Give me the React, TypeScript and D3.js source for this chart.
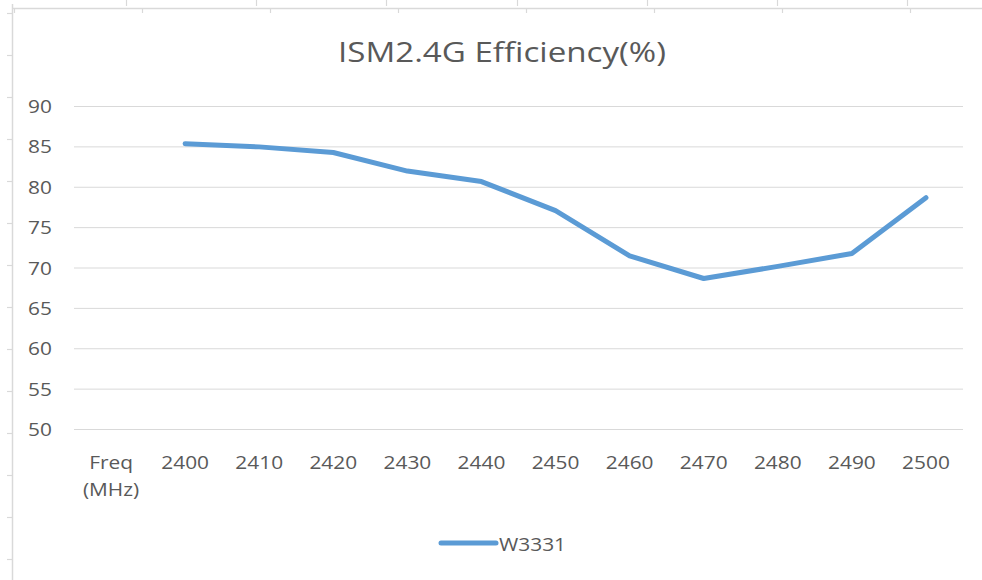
import React from 'react';
import * as d3 from 'd3';

const title = 'ISM2.4G Efficiency(%)';
const categories = ['Freq\n(MHz)', '2400', '2410', '2420', '2430', '2440', '2450', '2460', '2470', '2480', '2490', '2500'];
const efficiency: (number | null)[] = [null, 85.4, 85.0, 84.3, 82.0, 80.7, 77.1, 71.5, 68.7, 70.2, 71.8, 78.7];
const yTicks = [50, 55, 60, 65, 70, 75, 80, 85, 90];
const seriesName = 'W3331';

const W = 982;
const H = 580;
const TEXT = '#595959';
const GRID = '#d9d9d9';
const LINE = '#5B9BD5';
const FONT = "'Open Sans', 'Noto Sans', sans-serif";
const SX = 1.13; // horizontal stretch of the original rendering
const TSX = 1.25;

export default function App() {
  const x = d3.scaleBand<string>().domain(categories).range([74, 963]).paddingInner(0).paddingOuter(0);
  const y = d3.scaleLinear().domain([50, 90]).range([429.5, 106.5]);
  const cx = (c: string) => (x(c) as number) + x.bandwidth() / 2;

  const pts = categories.map((c, i) => ({ c, v: efficiency[i] }));
  const line = d3
    .line<{ c: string; v: number | null }>()
    .defined((d) => d.v !== null)
    .x((d) => cx(d.c))
    .y((d) => y(d.v as number));

  const leftTicks = d3.range(13, H, 42);
  const topTicksA = d3.range(126, W, 130.2);
  const topTicksB = d3.range(14, W, 128);

  return (
    <svg width={W} height={H} style={{ position: 'absolute', left: 0, top: 0, background: '#fff' }}>
      <rect x={0} y={0} width={W} height={H} fill="#fff" />
      {/* spreadsheet frame */}
      <line x1={12} x2={W} y1={8.5} y2={8.5} stroke={GRID} strokeWidth={1.5} />
      <line x1={12.5} x2={12.5} y1={4} y2={H} stroke={GRID} strokeWidth={1.5} />
      {leftTicks.map((t) => (
        <line key={'l' + t} x1={7} x2={12} y1={t + 0.5} y2={t + 0.5} stroke={GRID} strokeWidth={1.2} />
      ))}
      {topTicksA.map((t) => (
        <line key={'a' + t} x1={Math.round(t) + 0.5} x2={Math.round(t) + 0.5} y1={0} y2={6} stroke={GRID} strokeWidth={1.2} />
      ))}
      {topTicksB.map((t) => (
        <line key={'b' + t} x1={Math.round(t) + 0.5} x2={Math.round(t) + 0.5} y1={9} y2={13} stroke={GRID} strokeWidth={1.2} />
      ))}

      {/* title */}
      <text
        transform={`translate(${(74 + 963) / 2 - 16.5},62) scale(${TSX},1)`}
        textAnchor="middle"
        fontFamily={FONT}
        fontSize={26.5}
        fill={TEXT}
      >
        {title}
      </text>

      {/* gridlines */}
      {yTicks.map((t) => (
        <line key={'g' + t} x1={74} x2={963} y1={y(t)} y2={y(t)} stroke={GRID} strokeWidth={1} />
      ))}
      {yTicks.map((t) => (
        <text
          key={'yt' + t}
          transform={`translate(52,${y(t) + 6.5}) scale(${SX},1)`}
          textAnchor="end"
          fontFamily={FONT}
          fontSize={18.5}
          fill={TEXT}
        >
          {t}
        </text>
      ))}

      {/* x labels */}
      {categories.map((c) => (
        <g key={'xc' + c} transform={`translate(${cx(c)},469)`}>
          {c.split('\n').map((ln, j) => (
            <text
              key={j}
              transform={`translate(0,${j * 27}) scale(${SX},1)`}
              textAnchor="middle"
              fontFamily={FONT}
              fontSize={18.5}
              fill={TEXT}
            >
              {ln}
            </text>
          ))}
        </g>
      ))}

      {/* series */}
      <path d={line(pts) || ''} fill="none" stroke={LINE} strokeWidth={5} strokeLinejoin="round" strokeLinecap="round" />

      {/* legend */}
      <line x1={441} x2={496} y1={543} y2={543} stroke={LINE} strokeWidth={5} strokeLinecap="round" />
      <text transform={`translate(499,550.5) scale(${SX},1)`} fontFamily={FONT} fontSize={18.5} fill={TEXT}>
        {seriesName}
      </text>
    </svg>
  );
}
